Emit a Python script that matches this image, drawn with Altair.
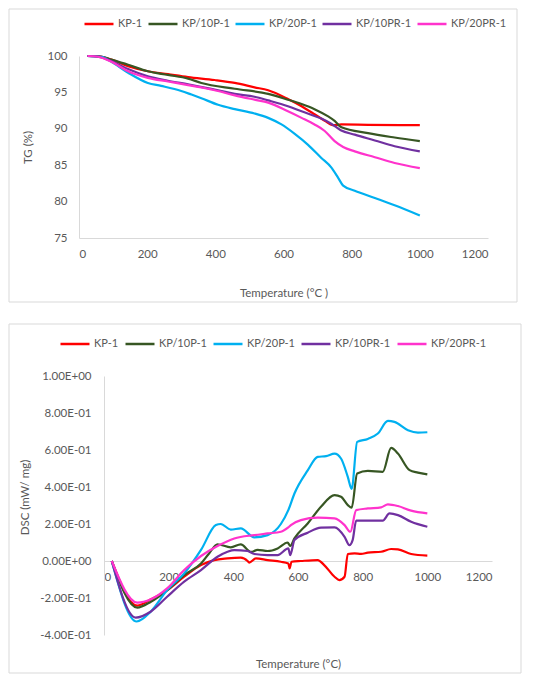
import altair as alt
import pandas as pd

SERIES = ["KP-1", "KP/10P-1", "KP/20P-1", "KP/10PR-1", "KP/20PR-1"]
COLORS = ["#FF0000", "#375623", "#00B0F0", "#7030A0", "#FF33CC"]

# ---------------- TG data ----------------
tg_kp1_t = [25, 56, 95, 144, 202, 261, 320, 398, 457, 515, 555, 613, 653, 691, 721, 745, 770, 848, 1000]
tg_kp1_v = [100, 100, 99.5, 98.6, 97.9, 97.5, 97.1, 96.7, 96.3, 95.7, 95.3, 94.1, 93.1, 92.0, 91.1, 90.5, 90.6, 90.55, 90.5]

tg_10p_t = [25, 66, 95, 144, 202, 261, 320, 359, 457, 555, 613, 653, 691, 731, 750, 770, 848, 926, 1000]
tg_10p_v = [100, 99.9, 99.5, 98.8, 97.9, 97.4, 96.9, 96.3, 95.5, 94.8, 94.0, 93.4, 92.7, 91.7, 91.1, 90.2, 89.4, 88.8, 88.3]

tg_20p_t = [25, 66, 95, 144, 202, 241, 300, 330, 359, 408, 457, 515, 555, 594, 633, 672, 711, 740, 760, 775, 809, 868, 926, 1000]
tg_20p_v = [100, 99.9, 99.2, 97.7, 96.3, 95.9, 95.2, 94.7, 94.2, 93.3, 92.7, 92.1, 91.5, 90.6, 89.3, 87.8, 86.0, 84.7, 83.3, 82.2, 81.5, 80.5, 79.5, 78.1]

tg_10pr_t = [25, 56, 95, 144, 202, 261, 320, 398, 457, 515, 555, 613, 653, 711, 740, 768, 809, 868, 926, 1000]
tg_10pr_v = [100, 99.9, 99.3, 98.2, 97.2, 96.6, 96.1, 95.4, 94.8, 94.4, 93.9, 93.1, 92.4, 91.4, 90.7, 89.8, 89.2, 88.4, 87.6, 86.9]

tg_20pr_t = [25, 56, 95, 144, 202, 261, 320, 398, 457, 515, 555, 613, 653, 691, 721, 750, 775, 809, 868, 926, 1000]
tg_20pr_v = [100, 99.9, 99.2, 97.9, 97.0, 96.5, 96.0, 95.3, 94.6, 94.0, 93.6, 92.4, 91.5, 90.6, 89.7, 88.3, 87.5, 86.9, 86.1, 85.3, 84.6]

TG_X_TICKS = [0, 200, 400, 600, 800, 1000, 1200]
TG_Y_TICKS = [75, 80, 85, 90, 95, 100]

# ---------------- DSC data ----------------
dsc_kp1_t = [24, 103, 145, 196, 248, 300, 341, 382, 423, 444, 449, 470, 506, 547, 570, 574, 580, 609, 661, 681, 713, 728, 744, 754, 775, 795, 816, 857, 888, 909, 950, 1000]
dsc_kp1_v = [0, -0.241, -0.207, -0.157, -0.085, -0.022, 0.005, 0.014, 0.018, 0.0, -0.009, 0.014, 0.005, -0.004, -0.013, -0.04, -0.004, 0.0, 0.005, -0.022, -0.085, -0.103, -0.085, 0.038, 0.041, 0.038, 0.045, 0.05, 0.065, 0.063, 0.038, 0.029]

dsc_10p_t = [24, 103, 145, 196, 248, 300, 325, 351, 392, 423, 455, 475, 506, 537, 568, 576, 589, 630, 671, 713, 733, 754, 766, 783, 816, 862, 888, 909, 945, 971, 1000]
dsc_10p_v = [0, -0.252, -0.22, -0.157, -0.076, -0.013, 0.041, 0.09, 0.074, 0.09, 0.049, 0.06, 0.054, 0.068, 0.1, 0.081, 0.122, 0.203, 0.293, 0.356, 0.347, 0.302, 0.288, 0.473, 0.487, 0.482, 0.611, 0.581, 0.491, 0.478, 0.468]

dsc_20p_t = [24, 101, 145, 196, 248, 300, 346, 361, 392, 423, 465, 506, 547, 570, 589, 630, 661, 687, 713, 733, 754, 766, 783, 816, 847, 878, 898, 940, 971, 1000]
dsc_20p_v = [0, -0.327, -0.273, -0.156, -0.067, 0.06, 0.194, 0.2, 0.17, 0.176, 0.128, 0.14, 0.2, 0.275, 0.365, 0.49, 0.563, 0.567, 0.58, 0.554, 0.455, 0.39, 0.644, 0.66, 0.689, 0.757, 0.752, 0.707, 0.694, 0.696]

dsc_10pr_t = [24, 98, 145, 196, 248, 300, 351, 382, 403, 444, 465, 506, 537, 570, 576, 589, 630, 671, 713, 744, 759, 769, 780, 816, 862, 883, 909, 950, 1000]
dsc_10pr_v = [0, -0.306, -0.273, -0.192, -0.112, -0.049, 0.023, 0.05, 0.059, 0.054, 0.038, 0.032, 0.032, 0.068, 0.032, 0.113, 0.153, 0.18, 0.182, 0.131, 0.086, 0.113, 0.218, 0.218, 0.218, 0.257, 0.248, 0.212, 0.185]

dsc_20pr_t = [24, 103, 145, 196, 248, 300, 351, 403, 465, 506, 547, 570, 578, 609, 661, 713, 744, 762, 780, 816, 857, 878, 909, 950, 1000]
dsc_20pr_v = [0, -0.225, -0.207, -0.147, -0.049, 0.027, 0.081, 0.122, 0.14, 0.149, 0.158, 0.182, 0.194, 0.221, 0.234, 0.23, 0.194, 0.158, 0.275, 0.284, 0.29, 0.306, 0.297, 0.272, 0.257]

DSC_X_TICKS = [0, 200, 400, 600, 800, 1000, 1200]
DSC_Y_TICKS = [-0.4, -0.2, 0, 0.2, 0.4, 0.6, 0.8, 1.0]
DSC_Y_LABELS = ["-4.00E-01", "-2.00E-01", "0.00E+00", "2.00E-01", "4.00E-01", "6.00E-01", "8.00E-01", "1.00E+00"]

FONT = "Lato"
GREY = "#595959"
LINE_GREY = "#D9D9D9"
FS = 11.5
LEG_FS = 11


def long_df(ts, vs):
    rows = []
    for name, t, v in zip(SERIES, ts, vs):
        for a, b in zip(t, v):
            rows.append({"series": name, "T": a, "v": b})
    return pd.DataFrame(rows)


tg_df = long_df([tg_kp1_t, tg_10p_t, tg_20p_t, tg_10pr_t, tg_20pr_t],
                [tg_kp1_v, tg_10p_v, tg_20p_v, tg_10pr_v, tg_20pr_v])
dsc_df = long_df([dsc_kp1_t, dsc_10p_t, dsc_20p_t, dsc_10pr_t, dsc_20pr_t],
                 [dsc_kp1_v, dsc_10p_v, dsc_20p_v, dsc_10pr_v, dsc_20pr_v])

label_expr = ""
for val, lab in zip(DSC_Y_TICKS, DSC_Y_LABELS):
    label_expr += f"abs(datum.value - ({val})) < 0.01 ? '{lab}' : "
label_expr += "''"


def make_legend(x, y, pad):
    return alt.Legend(orient="none", legendX=x, legendY=y, direction="horizontal",
                      title=None, symbolType="stroke", symbolSize=841, gridAlign="none",
                      symbolStrokeWidth=2.5, labelOffset=3, columnPadding=pad,
                      labelFont=FONT, labelFontSize=LEG_FS, labelColor=GREY)


box_df = pd.DataFrame({"k": [0]})

# ---------------- top chart ----------------
tg_lines = alt.Chart(tg_df).mark_line(strokeWidth=2.2, interpolate="monotone").encode(
    x=alt.X("T:Q", scale=alt.Scale(domain=[0, 1200], nice=False),
            axis=alt.Axis(values=TG_X_TICKS, format="d", title="Temperature (°C )", grid=False, ticks=False,
                          domainColor=LINE_GREY, labelPadding=10, titleY=55, titleBaseline="middle")),
    y=alt.Y("v:Q", scale=alt.Scale(domain=[75, 100], nice=False, zero=False),
            axis=alt.Axis(values=TG_Y_TICKS, title="TG (%)", grid=False, ticks=False,
                          domainColor=LINE_GREY, labelPadding=12, titleX=-51, titleBaseline="middle")),
    color=alt.Color("series:N", scale=alt.Scale(domain=SERIES, range=COLORS), sort=SERIES,
                    legend=make_legend(4, -48, 0)),
)
tg_box = alt.Chart(box_df).mark_rect(fillOpacity=0, stroke=LINE_GREY, strokeWidth=1).encode(
    x=alt.value(-70), x2=alt.value(438), y=alt.value(-47), y2=alt.value(246))
tg_chart = alt.layer(tg_box, tg_lines).properties(width=409, height=182)

# ---------------- bottom chart ----------------
dsc_lines = alt.Chart(dsc_df).mark_line(strokeWidth=2.2, interpolate="monotone").encode(
    x=alt.X("T:Q", scale=alt.Scale(domain=[0, 1200], range=[25, 413], nice=False),
            axis=alt.Axis(values=DSC_X_TICKS, format="d", title="Temperature (°C)", grid=False, ticks=False,
                          domainColor=LINE_GREY, offset=-74, labelPadding=10,
                          titleY=103, titleBaseline="middle")),
    y=alt.Y("v:Q", scale=alt.Scale(domain=[-0.4, 1.0], nice=False, zero=False),
            axis=alt.Axis(values=DSC_Y_TICKS, labelExpr=label_expr, title="DSC (mW/ mg)",
                          grid=False, ticks=False, domainColor=LINE_GREY, offset=-25,
                          labelPadding=13, titleX=-79, titleY=121, titleBaseline="middle")),
    color=alt.Color("series:N", scale=alt.Scale(domain=SERIES, range=COLORS), sort=SERIES,
                    legend=make_legend(-20, -48, 1)),
)
dsc_box = alt.Chart(box_df).mark_rect(fillOpacity=0, stroke=LINE_GREY, strokeWidth=1).encode(
    x=alt.value(-70), x2=alt.value(442), y=alt.value(-52), y2=alt.value(297))
dsc_chart = alt.layer(dsc_box, dsc_lines).properties(width=413, height=259)

chart = alt.vconcat(tg_chart, dsc_chart, spacing=20).resolve_scale(
    color="independent").resolve_legend(color="independent").properties(
    padding=0, background="white").configure_view(stroke=None).configure_axis(
    labelFont=FONT, titleFont=FONT, labelColor=GREY, titleColor=GREY,
    labelFontSize=FS, titleFontSize=FS, titleFontWeight="normal")

chart.save("out.html", embed_options={"renderer": "svg", "actions": False})
